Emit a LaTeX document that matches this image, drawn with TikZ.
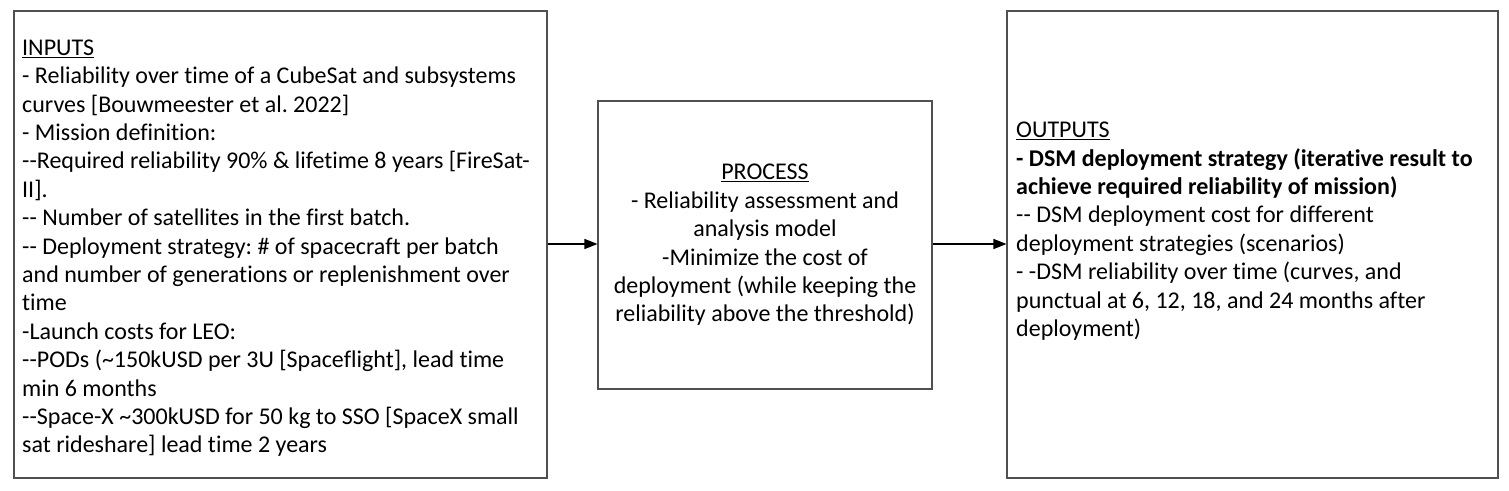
\documentclass[tikz,border=0pt]{standalone}
\usepackage{fontspec}
\setmainfont{Carlito}[Ligatures={NoCommon}]
\usetikzlibrary{arrows.meta}
\definecolor{boxgray}{HTML}{505050}
\frenchspacing
\begin{document}
\begin{tikzpicture}[x=1pt,y=-1pt,
  box/.style={draw=boxgray, line width=1.1pt, inner sep=0pt, fill=none},
  txt/.style={inner sep=0pt, font=\fontsize{24}{28.4}\selectfont},
  flow/.style={-{Triangle[length=13pt,width=10pt]}, line width=1.5pt, black}]
\useasboundingbox (0,0) rectangle (1509,490);
\node[box, minimum width=533pt, minimum height=467pt] (inbox) at (280.5,244.5) {};
\node[box, minimum width=334pt, minimum height=288pt] (procbox) at (765,245) {};
\node[box, minimum width=491pt, minimum height=467pt] (outbox) at (1252.5,244.5) {};
\node[txt, anchor=north west, align=left] (intxt) at (22,39.5) {\underline{INPUTS}\\
- Reliability over time of a CubeSat and subsystems\\
curves [Bouwmeester et al. 2022]\\
- Mission definition:\\
-{}-Required reliability 90\% \& lifetime 8 years [FireSat-\\
II].\\
-{}- Number of satellites in the first batch.\\
-{}- Deployment strategy: \# of spacecraft per batch\\
and number of generations or replenishment over\\
time\\
-Launch costs for LEO:\\
-{}-PODs (\textasciitilde150kUSD per 3U [Spaceflight], lead time\\
min 6 months\\
-{}-Space-X \textasciitilde300kUSD for 50 kg to SSO [SpaceX small\\
sat rideshare] lead time 2 years};
\node[txt, align=center] (proctxt) at (765,245) {\underline{PROCESS}\\
- Reliability assessment and\\
analysis model\\
-Minimize the cost of\\
deployment (while keeping the\\
reliability above the threshold)};
\node[txt, anchor=north west, align=left] (outtxt) at (1016,122) {\underline{OUTPUTS}\\
\textbf{- DSM deployment strategy (iterative result to}\\
\textbf{achieve required reliability of mission)}\\
-{}- DSM deployment cost for different\\
deployment strategies (scenarios)\\
- -DSM reliability over time (curves, and\\
punctual at 6, 12, 18, and 24 months after\\
deployment)};
\draw[flow] (inbox.east |- 0,244) -- (procbox.west |- 0,244);
\draw[flow] (procbox.east |- 0,244) -- (outbox.west |- 0,244);
\end{tikzpicture}
\end{document}
